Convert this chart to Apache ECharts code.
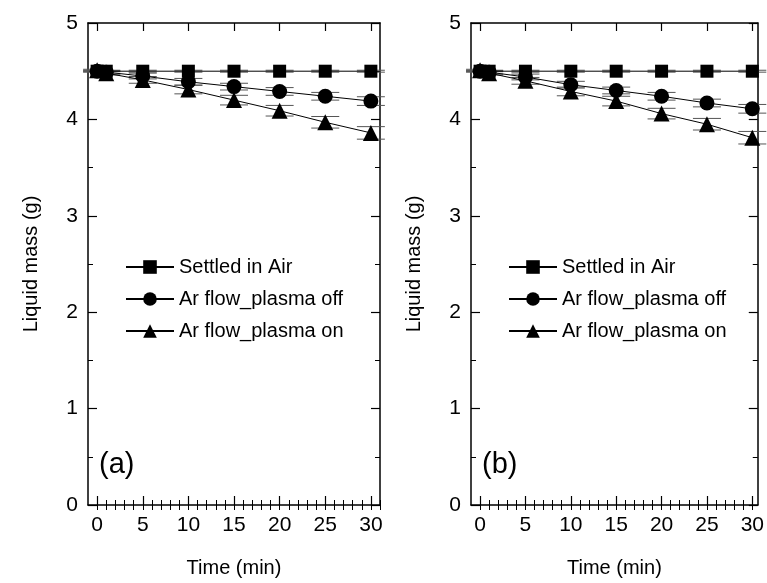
<!DOCTYPE html>
<html>
<head>
<meta charset="utf-8">
<script src="https://cdn.jsdelivr.net/npm/echarts@6/dist/echarts.min.js"></script>
<style>
	html, body { margin: 0; padding: 0; background: #fff; }
	#main { width: 767px; height: 583px; }
</style>
</head>
<body>
<div id="main"></div>
<script>
/**
 * 数据
 * **/
var times = [0, 1, 5, 10, 15, 20, 25, 30];
var names = ['Settled in Air', 'Ar flow_plasma off', 'Ar flow_plasma on'];
var airA = [4.5, 4.5, 4.5, 4.5, 4.5, 4.5, 4.5, 4.5];
var offA = [4.5, 4.49, 4.45, 4.39, 4.34, 4.29, 4.24, 4.19];
var onA = [4.51, 4.48, 4.41, 4.31, 4.2, 4.09, 3.97, 3.86];
var airB = [4.5, 4.5, 4.5, 4.5, 4.5, 4.5, 4.5, 4.5];
var offB = [4.5, 4.49, 4.44, 4.36, 4.3, 4.24, 4.17, 4.11];
var onB = [4.51, 4.48, 4.4, 4.29, 4.19, 4.06, 3.95, 3.81];
var airErr = [0.005, 0.005, 0.01, 0.01, 0.01, 0.01, 0.01, 0.01];
var offErr = [0.01, 0.02, 0.03, 0.035, 0.035, 0.04, 0.04, 0.045];
var onErr = [0.01, 0.02, 0.035, 0.045, 0.05, 0.055, 0.06, 0.065];
var xMajor = [0, 5, 10, 15, 20, 25, 30];
var xMinorA = [];
for (var i = 0; i <= 31; i++) xMinorA.push(i);
var xMinorB = xMinorA.slice(0, 31);

var font = 'Liberation Sans, Arial, sans-serif';

function pairs(vals) {
	return times.map(function(t, i) {
		return [t, vals[i]];
	});
}
function errPairs(vals, errs) {
	return times.map(function(t, i) {
		return [t, vals[i], errs[i]];
	});
}

// 误差线
function renderErr(params, api) {
	var x = api.value(0), y = api.value(1), e = api.value(2);
	var top = api.coord([x, y + e]);
	var bot = api.coord([x, y - e]);
	var w = 14;
	var st = { stroke: '#555', lineWidth: 1 };
	return {
		type: 'group',
		children: [
			{ type: 'line', shape: { x1: top[0], y1: top[1], x2: bot[0], y2: bot[1] }, style: st },
			{ type: 'line', shape: { x1: top[0] - w, y1: top[1], x2: top[0] + w, y2: top[1] }, style: st },
			{ type: 'line', shape: { x1: bot[0] - w, y1: bot[1], x2: bot[0] + w, y2: bot[1] }, style: st }
		]
	};
}

function xAxes(grid, max, minor) {
	var base = {
		type: 'value',
		gridIndex: grid,
		min: -1,
		max: max,
		splitLine: { show: false },
		axisLine: { onZero: false, lineStyle: { color: '#000', width: 1.5 } }
	};
	return [
		Object.assign({}, base, {
			position: 'bottom',
			name: 'Time (min)',
			nameLocation: 'middle',
			nameGap: 53,
			nameTextStyle: { fontFamily: font, fontSize: 20, color: '#000' },
			axisTick: { inside: true, length: 9, customValues: xMajor, lineStyle: { color: '#000', width: 1.2 } },
			axisLabel: { customValues: xMajor, margin: 10, fontFamily: font, fontSize: 21, color: '#000' }
		}),
		Object.assign({}, base, {
			position: 'bottom',
			axisLine: { show: false },
			axisTick: { inside: true, length: 5, customValues: minor, lineStyle: { color: '#000', width: 1 } },
			axisLabel: { show: false }
		}),
		Object.assign({}, base, {
			position: 'top',
			axisTick: { inside: true, length: 8, customValues: xMajor, lineStyle: { color: '#000', width: 1.2 } },
			axisLabel: { show: false }
		}),
		Object.assign({}, base, {
			position: 'top',
			axisLine: { show: false },
			axisTick: { inside: true, length: 5, customValues: minor, lineStyle: { color: '#000', width: 1 } },
			axisLabel: { show: false }
		})
	];
}

function yAxes(grid) {
	var base = {
		type: 'value',
		gridIndex: grid,
		min: 0,
		max: 5,
		interval: 1,
		splitLine: { show: false },
		axisLine: { show: true, onZero: false, lineStyle: { color: '#000', width: 1.5 } },
		axisTick: { inside: true, length: 9, lineStyle: { color: '#000', width: 1.2 } },
		minorTick: { show: true, splitNumber: 2, length: 5, lineStyle: { color: '#000', width: 1 } }
	};
	return [
		Object.assign({}, base, {
			position: 'left',
			name: 'Liquid mass (g)',
			nameLocation: 'middle',
			nameGap: 47,
			nameTextStyle: { fontFamily: font, fontSize: 20, color: '#000' },
			axisLabel: { margin: 10, fontFamily: font, fontSize: 21, color: '#000' }
		}),
		Object.assign({}, base, {
			position: 'right',
			axisLabel: { show: false }
		})
	];
}

var symbols = ['rect', 'circle', 'triangle'];
var sizes = [13, 15, 16];

function panelSeries(xi, yi, vals, errs) {
	var out = [];
	vals.forEach(function(v, k) {
		out.push({
			type: 'custom',
			xAxisIndex: xi,
			yAxisIndex: yi,
			renderItem: renderErr,
			silent: true,
			z: 1,
			data: errPairs(v, errs[k])
		});
	});
	vals.forEach(function(v, k) {
		out.push({
			name: names[k],
			type: 'line',
			xAxisIndex: xi,
			yAxisIndex: yi,
			symbol: symbols[k],
			symbolSize: sizes[k],
			z: 3,
			lineStyle: { color: '#000', width: 1 },
			itemStyle: { color: '#000' },
			data: pairs(v)
		});
	});
	return out;
}

var myChart = echarts.init(document.getElementById('main'));
var legendBase = {
	orient: 'vertical',
	top: 252,
	itemWidth: 48,
	itemHeight: 17,
	itemGap: 12,
	textStyle: { fontFamily: font, fontSize: 20, color: '#000' },
	data: names
};
var option = {
	backgroundColor: '#fff',
	animation: false,
	grid: [
		{ left: 88, top: 23, width: 292, height: 483 },
		{ left: 471, top: 23, width: 290, height: 483 }
	],
	xAxis: xAxes(0, 31, xMinorA).concat(xAxes(1, 30.6, xMinorB)),
	yAxis: yAxes(0).concat(yAxes(1)),
	legend: [
		Object.assign({}, legendBase, { left: 120 }),
		Object.assign({}, legendBase, { left: 503 })
	],
	graphic: [
		{ type: 'text', left: 99, top: 450, style: { text: '(a)', font: '29px ' + font, fill: '#000' } },
		{ type: 'text', left: 482, top: 450, style: { text: '(b)', font: '29px ' + font, fill: '#000' } }
	],
	series: panelSeries(0, 0, [airA, offA, onA], [airErr, offErr, onErr])
		.concat(panelSeries(4, 2, [airB, offB, onB], [airErr, offErr, onErr]))
};
myChart.setOption(option);
</script>
</body>
</html>
